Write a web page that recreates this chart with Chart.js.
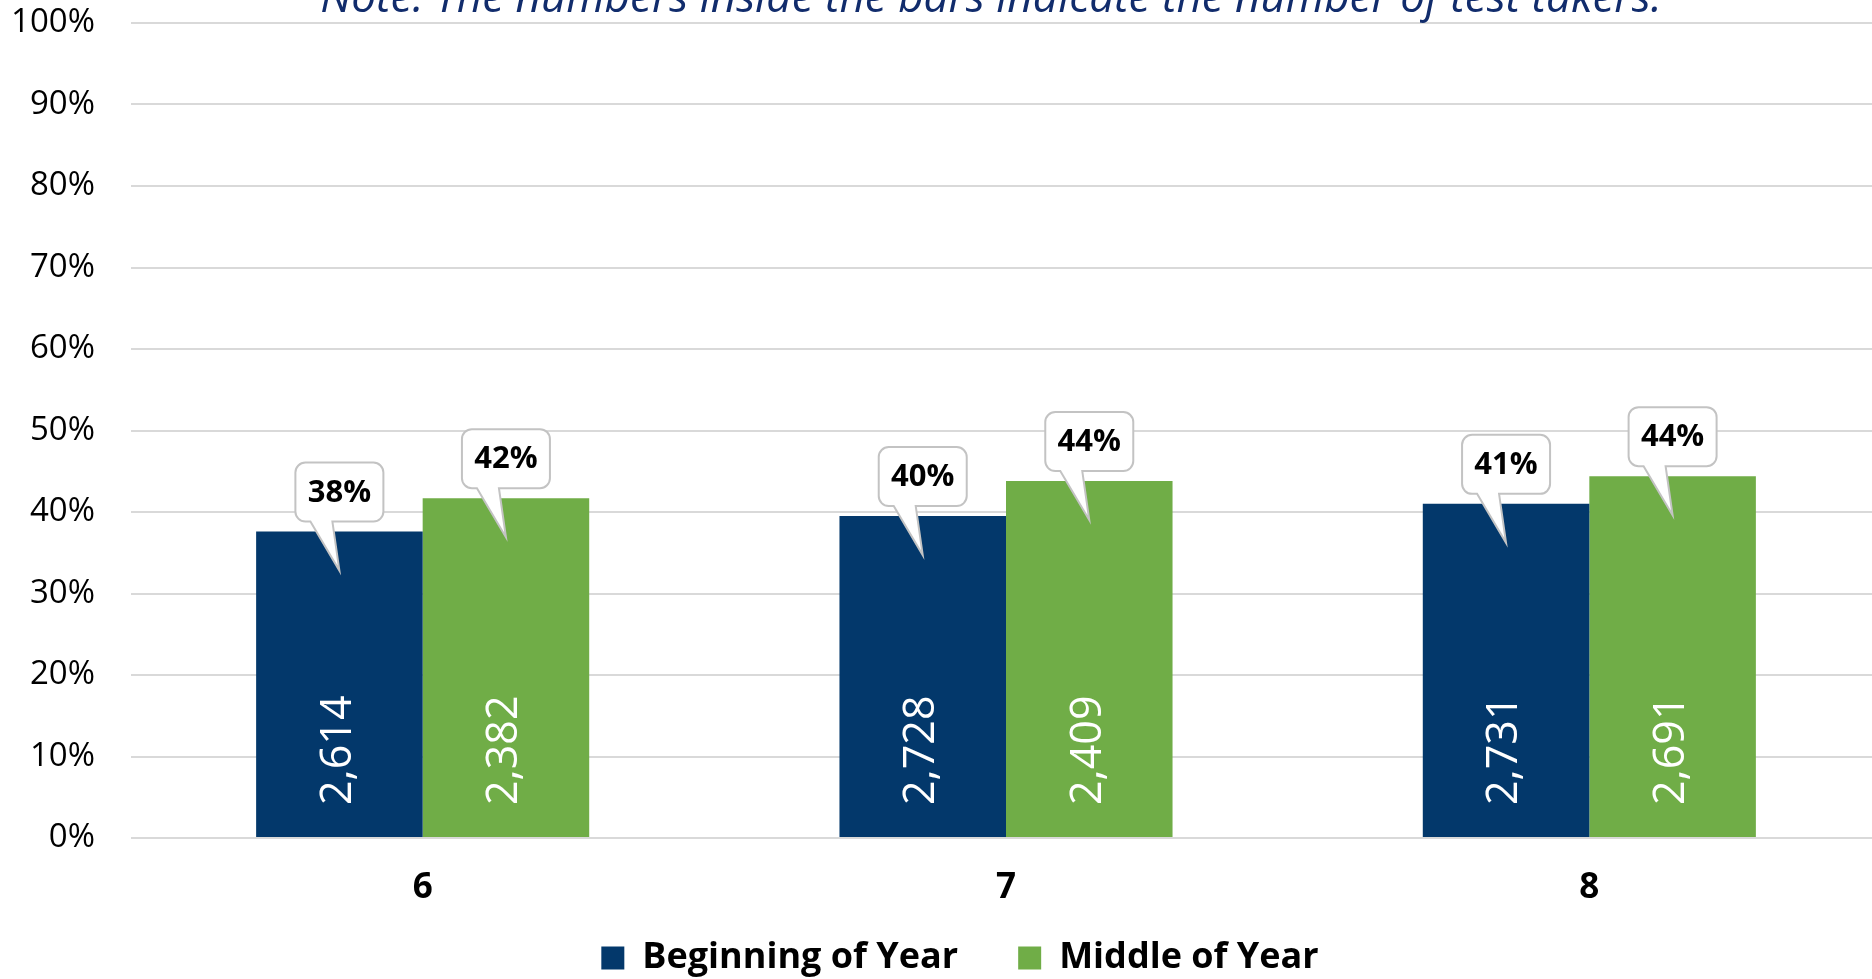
<!DOCTYPE html>
<html>
<head>
<meta charset="utf-8">
<script src="https://cdn.jsdelivr.net/npm/chart.js@4.4.1/dist/chart.umd.min.js"></script>
<style>
    html, body { margin: 0; padding: 0; overflow: hidden; background: #fff; }
    #wrap { position: relative; width: 1920px; height: 979px; }
</style>
</head>
<body>
<div id="wrap"><canvas id="chart"></canvas></div>
<script>
const GRADES      = ['6', '7', '8'];
const SERIES      = ['Beginning of Year', 'Middle of Year'];
const BOY_PCT     = [37.6, 39.5, 41.0];
const MOY_PCT     = [41.7, 43.8, 44.4];
const BOY_COUNT   = ['2,614', '2,728', '2,731'];
const MOY_COUNT   = ['2,382', '2,409', '2,691'];
const Y_TICKS     = [0, 10, 20, 30, 40, 50, 60, 70, 80, 90, 100];
const NOTE        = 'Note: The numbers inside the bars indicate the number of test takers.';

const BLUE  = '#03386b';
const GREEN = '#70ad47';
const FONT  = "'Open Sans', 'Noto Sans', sans-serif";

const COUNTS = [BOY_COUNT, MOY_COUNT];

// note line at the very top, partly cut off like the source
const notePlugin = {
    id: 'note',
    afterDraw(chart) {
        const ctx = chart.ctx;
        ctx.save();
        ctx.font = `italic 44px ${FONT}`;
        ctx.fillStyle = '#112c6c';
        ctx.textAlign = 'center';
        ctx.textBaseline = 'alphabetic';
        ctx.fillText(NOTE, 991, 12);
        ctx.restore();
    }
};

// scales are kept tight so the legend sits close / is centred; let their labels spill out
const unclip = {
    id: 'unclip',
    afterLayout(chart) {
        chart.scales.x.bottom = chart.height;
        chart.scales.y.left = 0;
    }
};

// rotated counts inside the bars + callout bubbles with the percentage
const barLabels = {
    id: 'barLabels',
    afterDatasetsDraw(chart) {
        const ctx = chart.ctx;
        const base = chart.scales.y.getPixelForValue(0);
        chart.data.datasets.forEach((ds, di) => {
            const meta = chart.getDatasetMeta(di);
            meta.data.forEach((bar, i) => {
                // count
                ctx.save();
                ctx.translate(bar.x - 1, base - 33);
                ctx.rotate(-Math.PI / 2);
                ctx.font = `400 43px ${FONT}`;
                ctx.fillStyle = '#fff';
                ctx.textAlign = 'left';
                ctx.textBaseline = 'middle';
                ctx.fillText(COUNTS[di][i], 0, 0);
                ctx.restore();

                // callout
                const w = 88, h = 59, r = 10;
                const x0 = bar.x - w / 2, x1 = bar.x + w / 2;
                const y1 = bar.y - 10, y0 = y1 - h;
                ctx.save();
                ctx.beginPath();
                ctx.moveTo(x0 + r, y0);
                ctx.lineTo(x1 - r, y0);
                ctx.arcTo(x1, y0, x1, y0 + r, r);
                ctx.lineTo(x1, y1 - r);
                ctx.arcTo(x1, y1, x1 - r, y1, r);
                ctx.lineTo(bar.x - 7, y1);
                ctx.lineTo(bar.x, bar.y + 39);
                ctx.lineTo(bar.x - 29, y1);
                ctx.lineTo(x0 + r, y1);
                ctx.arcTo(x0, y1, x0, y1 - r, r);
                ctx.lineTo(x0, y0 + r);
                ctx.arcTo(x0, y0, x0 + r, y0, r);
                ctx.closePath();
                ctx.fillStyle = '#fff';
                ctx.fill();
                ctx.strokeStyle = '#c3c3c3';
                ctx.lineWidth = 2;
                ctx.stroke();
                ctx.font = `bold 31px ${FONT}`;
                ctx.fillStyle = '#000';
                ctx.textAlign = 'center';
                ctx.textBaseline = 'middle';
                ctx.fillText(Math.round(ds.data[i]) + '%', bar.x, y0 + h / 2 + 1);
                ctx.restore();
            });
        });
    }
};

new Chart(document.getElementById('chart'), {
    type: 'bar',
    data: {
        labels: GRADES,
        datasets: [
            { label: SERIES[0], data: BOY_PCT, backgroundColor: BLUE },
            { label: SERIES[1], data: MOY_PCT, backgroundColor: GREEN }
        ]
    },
    options: {
        responsive: true,
        maintainAspectRatio: false,
        animation: false,
        categoryPercentage: 0.571,
        barPercentage: 1.0,
        layout: { padding: { top: 23, right: 39, left: 39, bottom: -7 } },
        plugins: {
            legend: {
                position: 'bottom',
                labels: {
                    color: '#000',
                    font: { family: FONT, size: 36, weight: 'bold' },
                    boxWidth: 23,
                    boxHeight: 23,
                    padding: 60
                }
            },
            tooltip: { enabled: false }
        },
        scales: {
            x: {
                grid: { display: false },
                border: { display: false },
                ticks: { color: '#000', font: { family: FONT, size: 35, weight: 'bold' }, padding: 21 },
                afterFit: s => { s.height = 42; }
            },
            y: {
                min: 0,
                max: 100,
                afterBuildTicks: s => { s.ticks = Y_TICKS.map(v => ({ value: v })); },
                grid: { color: '#d9d9d9', lineWidth: 2, drawTicks: false },
                border: { display: false },
                ticks: {
                    color: '#000',
                    font: { family: FONT, size: 33 },
                    padding: 36,
                    callback: v => v + '%'
                },
                afterFit: s => {
                    s.width = 92;
                    s.paddingTop = 0;
                    s.paddingBottom = 0;
                }
            }
        }
    },
    plugins: [notePlugin, unclip, barLabels]
});
</script>
</body>
</html>
